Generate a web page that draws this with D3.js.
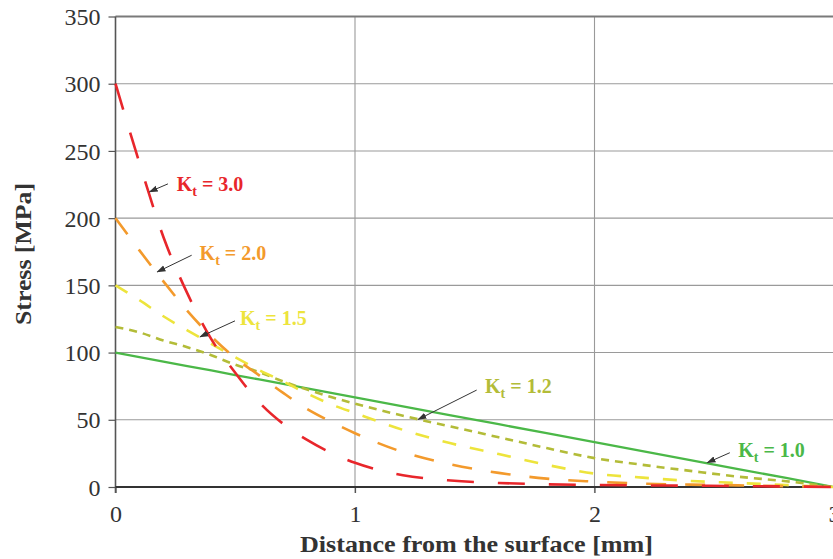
<!DOCTYPE html>
<html>
<head>
<meta charset="utf-8">
<script src="https://cdn.jsdelivr.net/npm/d3@7"></script>
<style>
  html, body { margin: 0; padding: 0; background: #ffffff; overflow: hidden; }
  svg { display: block; }
</style>
</head>
<body>
<svg id="chart" width="833" height="559"></svg>
<script>
// ---- data ----
const distance = [0, 0.1, 0.2, 0.3, 0.4, 0.5, 0.6, 0.7, 0.8, 0.9, 1.0, 1.2, 1.4, 1.6, 1.8, 2.0, 2.2, 2.4, 2.6, 2.8, 3.0];
const stressKt30 = [300, 241, 186, 144, 110, 85, 63, 47, 35, 25.4, 18, 8.8, 4.8, 3, 2, 1.5, 1.2, 1, 0.7, 0.4, 0];
const stressKt20 = [200, 176, 153, 131, 112, 96, 83, 70, 58, 48.5, 40, 26, 16.8, 10.5, 6.2, 4, 2.5, 1.8, 1.2, 0.6, 0];
const stressKt15 = [150, 139, 127, 116.5, 106.5, 96.5, 87, 78.5, 69.5, 61.5, 55, 42.5, 32.5, 24.5, 16.5, 10, 7, 4.5, 3, 1.5, 0];
const stressKt12 = [119, 115, 109, 104, 98, 91, 85.5, 78.5, 72.5, 67, 62, 53, 45, 37, 29, 21.5, 16.5, 12, 7.7, 4.3, 0];
const stressKt10 = [100, 96.7, 93.3, 90, 86.7, 83.3, 80, 76.7, 73.3, 70, 66.7, 60, 53.3, 46.7, 40, 33.3, 26.7, 20, 13.3, 6.7, 0];

const seriesNames = ["3.0", "2.0", "1.5", "1.2", "1.0"];
const xTicks = [0, 1, 2, 3];
const yTicks = [0, 50, 100, 150, 200, 250, 300, 350];
const xTitle = "Distance from the surface [mm]";
const yTitle = "Stress [MPa]";

// label anchor (data units) and arrow (from -> to, data units)
const labelX = [0.2555, 0.351, 0.52, 1.543, 2.60];
const labelY = [220.3, 168.5, 120.4, 69.9, 22.5];
const arrowFromX = [0.219, 0.318, 0.499, 1.508, 2.565];
const arrowFromY = [225.5, 172.4, 123.6, 72.1, 25.5];
const arrowToX = [0.142, 0.1745, 0.353, 1.264, 2.471];
const arrowToY = [219.6, 160, 111.7, 50.3, 18.1];

// ---- styling ----
const colors = ["#e8262b", "#f39a2c", "#ede43c", "#b3bc38", "#4bb848"];
const dashes = ["27,24", "20,19", "14,14", "8,6", null];
const widths = [2.6, 2.6, 2.6, 2.6, 2.3];

const svg = d3.select("#chart");
const x = d3.scaleLinear().domain([0, 3]).range([115.5, 834]);
const y = d3.scaleLinear().domain([0, 350]).range([487, 16.5]);

// horizontal grid
svg.append("g").selectAll("line").data(yTicks.filter(d => d > 0 && d < 350)).join("line")
  .attr("x1", x(0)).attr("x2", 840)
  .attr("y1", d => y(d)).attr("y2", d => y(d))
  .attr("stroke", "#9a9a9a").attr("stroke-width", 1.1);

// vertical grid (extends below axis as tick)
svg.append("g").selectAll("line").data(xTicks.filter(d => d > 0)).join("line")
  .attr("x1", d => x(d)).attr("x2", d => x(d))
  .attr("y1", y(350)).attr("y2", y(0) + 6)
  .attr("stroke", "#9a9a9a").attr("stroke-width", 1.1);

// top border
svg.append("line").attr("x1", x(0)).attr("x2", 840).attr("y1", y(350)).attr("y2", y(350))
  .attr("stroke", "#7a7a7a").attr("stroke-width", 2);

// y axis
const yAxis = d3.axisLeft(y).tickValues(yTicks).tickSize(7).tickPadding(8).tickFormat(d3.format("d"));
const gy = svg.append("g").attr("transform", `translate(${x(0)},0)`).call(yAxis);
gy.select(".domain").remove();
gy.selectAll(".tick line").attr("stroke", "#555").attr("stroke-width", 1.2);
gy.selectAll(".tick text").attr("font-family", "'Liberation Serif', 'DejaVu Serif', serif")
  .attr("font-size", 24).attr("fill", "#333").attr("dy", "0.34em");
svg.append("line").attr("x1", x(0)).attr("x2", x(0)).attr("y1", y(350)).attr("y2", y(0) + 6)
  .attr("stroke", "#555").attr("stroke-width", 1.6);

// x axis
const xAxis = d3.axisBottom(x).tickValues(xTicks).tickSize(6).tickPadding(12).tickFormat(d3.format("d"));
const gx = svg.append("g").attr("transform", `translate(0,${y(0)})`).call(xAxis);
gx.select(".domain").remove();
gx.selectAll(".tick line").attr("stroke", "#555").attr("stroke-width", 1.2);
gx.selectAll(".tick text").attr("font-family", "'Liberation Serif', 'DejaVu Serif', serif")
  .attr("font-size", 24).attr("fill", "#333");
svg.append("line").attr("x1", x(0)).attr("x2", 840).attr("y1", y(0)).attr("y2", y(0))
  .attr("stroke", "#333").attr("stroke-width", 1.8);

// curves
const allSeries = [stressKt30, stressKt20, stressKt15, stressKt12, stressKt10];
const curveLine = d3.line().x(d => x(d[0])).y(d => y(d[1])).curve(d3.curveMonotoneX);
const straightLine = d3.line().x(d => x(d[0])).y(d => y(d[1]));
const drawOrder = [4, 3, 2, 1, 0];
drawOrder.forEach(i => {
  const pts = distance.map((dx, k) => [dx, allSeries[i][k]]);
  svg.append("path").datum(pts)
    .attr("d", i === 4 ? straightLine : curveLine)
    .attr("fill", "none")
    .attr("stroke", colors[i])
    .attr("stroke-width", widths[i])
    .attr("stroke-dasharray", dashes[i])
    .attr("stroke-linecap", "butt");
});

// arrowhead marker
svg.append("defs").append("marker")
  .attr("id", "ah").attr("viewBox", "0 0 10 10").attr("refX", 9).attr("refY", 5)
  .attr("markerWidth", 9).attr("markerHeight", 9).attr("markerUnits", "userSpaceOnUse")
  .attr("orient", "auto")
  .append("path").attr("d", "M0,1.5 L10,5 L0,8.5 Z").attr("fill", "#333");

// annotations
seriesNames.forEach((name, i) => {
  svg.append("line")
    .attr("x1", x(arrowFromX[i])).attr("y1", y(arrowFromY[i]))
    .attr("x2", x(arrowToX[i])).attr("y2", y(arrowToY[i]))
    .attr("stroke", "#333").attr("stroke-width", 1)
    .attr("marker-end", "url(#ah)");
  const t = svg.append("text")
    .attr("x", x(labelX[i])).attr("y", y(labelY[i]))
    .attr("font-family", "'Liberation Serif', 'DejaVu Serif', serif")
    .attr("font-weight", "bold").attr("font-size", 20)
    .attr("fill", colors[i]);
  t.append("tspan").text("K");
  t.append("tspan").attr("font-size", 14).attr("dy", 5).text("t");
  t.append("tspan").attr("dy", -5).text(" = " + name);
});

// axis titles
svg.append("text")
  .attr("x", 476.5).attr("y", 552)
  .attr("text-anchor", "middle")
  .attr("font-family", "'Liberation Serif', 'DejaVu Serif', serif")
  .attr("font-weight", "bold").attr("font-size", 24).attr("fill", "#333")
  .attr("textLength", 353).attr("lengthAdjust", "spacingAndGlyphs")
  .text(xTitle);

svg.append("text")
  .attr("transform", "translate(31,254) rotate(-90)")
  .attr("text-anchor", "middle")
  .attr("font-family", "'Liberation Serif', 'DejaVu Serif', serif")
  .attr("font-weight", "bold").attr("font-size", 24).attr("fill", "#333")
  .attr("textLength", 142).attr("lengthAdjust", "spacingAndGlyphs")
  .text(yTitle);
</script>
</body>
</html>
